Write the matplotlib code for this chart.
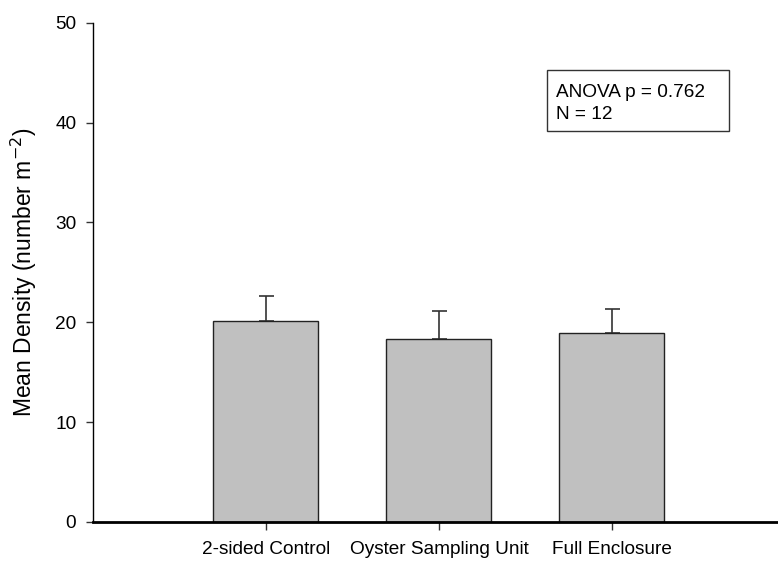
import numpy as np
import matplotlib
matplotlib.use("Agg")
import matplotlib.pyplot as plt
from matplotlib.patches import Rectangle

plt.rcParams['font.family'] = ['Liberation Sans', 'DejaVu Sans']

categories = ['2-sided Control', 'Oyster Sampling Unit', 'Full Enclosure']
means = [20.1, 18.3, 18.9]
errors = [2.5, 2.85, 2.4]
yticks = [0, 10, 20, 30, 40, 50]

fig = plt.figure(figsize=(7.78, 5.63), dpi=100)
ax = fig.add_axes([93 / 778, 41 / 563, 685 / 778, 499.3 / 563])

x = np.arange(len(categories))
ax.bar(x, means, width=0.607, color='#c0c0c0', edgecolor='#222222', linewidth=1.0, zorder=2)
ax.errorbar(x, means, yerr=[np.zeros(len(errors)), errors], fmt='none',
            ecolor='#333333', elinewidth=1.2, capsize=5.4, capthick=1.2, zorder=1)

ax.set_xlim(-1.0, 2.96)
ax.set_ylim(0, 50)
ax.set_yticks(yticks)
ax.set_xticks(x)
ax.set_xticklabels(categories, fontsize=13.7)
ax.tick_params(axis='y', direction='out', length=5, width=1, labelsize=13.7, pad=7, color='#333333')
ax.tick_params(axis='x', direction='out', length=6, width=1, pad=7.5, color='#333333')

for s in ['top', 'right']:
    ax.spines[s].set_visible(False)
ax.spines['left'].set_linewidth(1.0)
ax.spines['bottom'].set_linewidth(2.0)

ax.set_ylabel('Mean Density (number m$^{-2}$)', fontsize=16.5)
ax.yaxis.set_label_coords(-0.079, 0.5)

# annotation box
ax.add_patch(Rectangle((0.6628, 0.7831), 0.2657, 0.1222, transform=ax.transAxes,
                       facecolor='white', edgecolor='#333333', linewidth=1.0, zorder=3))
ax.text(0.676, 0.8512, 'ANOVA p = 0.762', transform=ax.transAxes,
        fontsize=13.7, va='baseline', ha='left', zorder=4)
ax.text(0.676, 0.8071, 'N = 12', transform=ax.transAxes,
        fontsize=13.7, va='baseline', ha='left', zorder=4)

fig.savefig('out.png', dpi=100)
